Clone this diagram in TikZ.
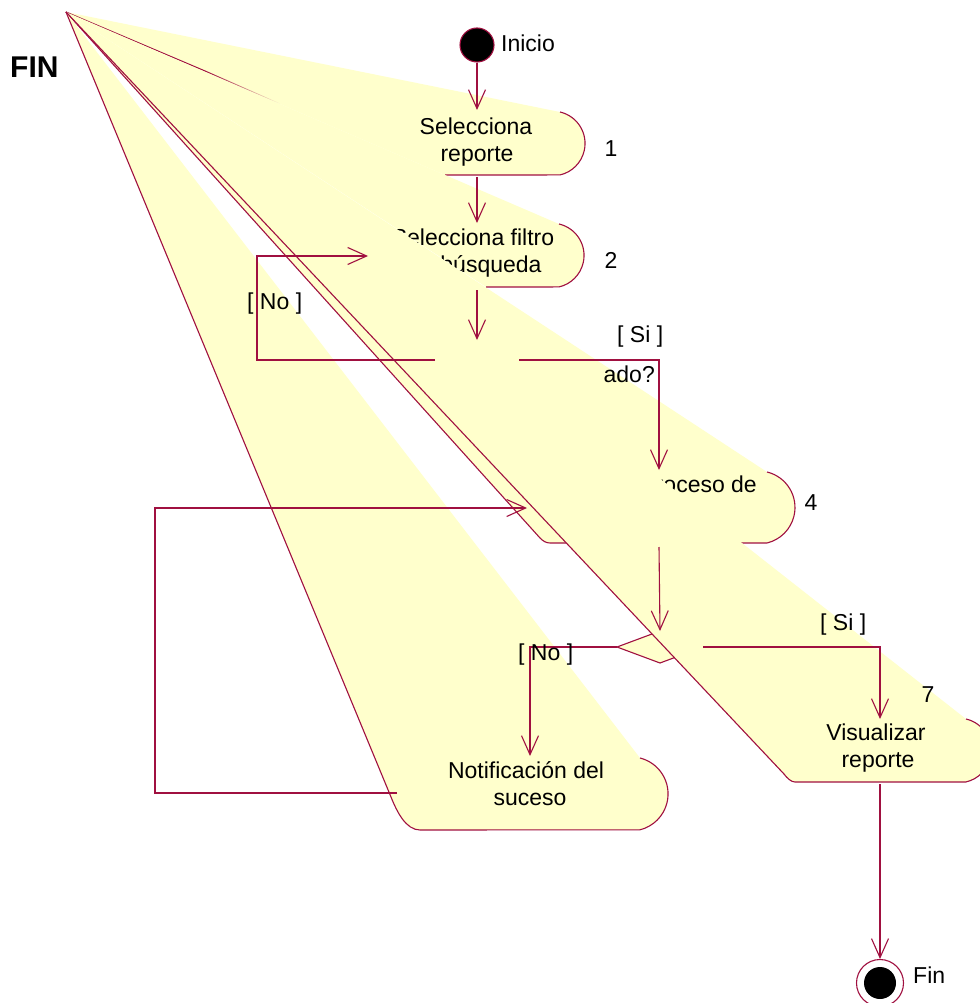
\documentclass[tikz,border=0pt]{standalone}
\usepackage{fontspec}
\setmainfont{Liberation Sans}
\usetikzlibrary{arrows.meta,fadings}
\definecolor{roseline}{RGB}{160,16,64}
\definecolor{rosefill}{RGB}{255,255,204}

\begin{document}
\begin{tikzpicture}[x=1pt,y=-1pt,
  yel/.style={fill=rosefill},
  ol/.style={draw=roseline, line width=1.1pt, line join=round},
  flow/.style={draw=roseline, line width=1.1pt, -{Straight Barb[length=19pt,width=17pt]}},
  txt/.style={font=\fontsize{23}{27}\selectfont, inner sep=0pt, anchor=base},
]
\useasboundingbox (0,0) rectangle (979,1003);
\fill[white] (0,0) rectangle (979,1003);

% common corner that every activity outline runs back to
\coordinate (A) at (66,12);

% ---- Selecciona reporte
\fill[yel] (A) -- (560,112) arc[start angle=77,end angle=-77,radius=32.3pt] -- (445,175) -- cycle;
\draw[ol] (560,112) arc[start angle=77,end angle=-77,radius=32.3pt] -- (445,175);
\coordinate (fadeA) at (205,71);
\draw[ol] (A) -- (fadeA);
\draw[ol, path fading=east] (fadeA) -- (280,104);
\node[txt] (s1a) at (476,135) {Selecciona};
\node[txt] (s1b) at (477,162) {reporte};
\coordinate (b1in) at (477,110);
\coordinate (b1out) at (477,177);

% ---- Selecciona filtro de búsqueda
\fill[yel] (A) -- (559,224) arc[start angle=77,end angle=-77,radius=32.3pt] -- (486,287) -- cycle;
\draw[ol] (559,224) arc[start angle=77,end angle=-77,radius=32.3pt] -- (486,287);
\node[txt] (s2a) at (473,245) {Selecciona filtro};
\node[txt] (s2b) at (475,272) {de búsqueda};
\coordinate (b2in) at (477,223);
\coordinate (b2left) at (368,256);
\coordinate (b2out) at (477,290);

% ---- first decision
\coordinate (d1n) at (477,340);
\coordinate (d1e) at (519,360);
\coordinate (d1s) at (477,380);
\coordinate (d1w) at (435,360);
\filldraw[yel,ol] (d1n) -- (d1e) -- (d1s) -- (d1w) -- cycle;

% ---- Proceso de ...
\fill[yel] (A) -- (767,472) arc[start angle=76.5,end angle=-76.5,radius=36.5pt] -- (550,543)
  .. controls (546,543) and (543,541) .. (540,538) -- cycle;
\draw[ol] (767,472) arc[start angle=76.5,end angle=-76.5,radius=36.5pt] -- (550,543)
  .. controls (546,543) and (543,541) .. (540,538) -- (A);
\node[txt, anchor=base east] (s4) at (757,492) {Proceso de};
\coordinate (b4in) at (659,470);
\coordinate (b4left) at (527,508);
\coordinate (b4out) at (659,547);

\node[txt, anchor=base east] (q1) at (655,382) {ado?};

% ---- second decision
\coordinate (d2n) at (660,631);
\coordinate (d2e) at (703,647);
\coordinate (d2s) at (660,663);
\coordinate (d2w) at (617,647);
\filldraw[yel,ol] (d2n) -- (d2e) -- (d2s) -- (d2w) -- cycle;

% ---- Notificación del suceso
\fill[yel] (A) -- (640,758) arc[start angle=76,end angle=-76,radius=37pt] -- (420,830)
  .. controls (406,830) and (397,812) .. (391,797) -- cycle;
\draw[ol] (640,758) arc[start angle=76,end angle=-76,radius=37pt] -- (420,830)
  .. controls (406,830) and (397,812) .. (391,797) -- (A);
\node[txt] (s5a) at (526,778) {Notificación del};
\node[txt] (s5b) at (530,805) {suceso};
\coordinate (b5in) at (530,756);
\coordinate (b5left) at (397,793);

% ---- Visualizar reporte
\fill[yel] (A) -- (966,719) arc[start angle=77,end angle=-77,radius=32.3pt] -- (795,782)
  .. controls (791,782) and (787,778) .. (784,774) -- cycle;
\draw[ol] (966,719) arc[start angle=77,end angle=-77,radius=32.3pt] -- (795,782)
  .. controls (791,782) and (787,778) .. (784,774) -- (A);
\node[txt] (s7a) at (876,740) {Visualizar};
\node[txt] (s7b) at (878,767) {reporte};
\coordinate (b7in) at (880,719);
\coordinate (b7out) at (880,784);

% ---- start and end states
\node[circle, fill=black, draw=roseline, line width=1.1pt, minimum size=34pt, inner sep=0pt] (ini) at (477,45) {};
\node[txt, anchor=base west] (inil) at (501,52) {Inicio};
\node[circle, fill=white, draw=roseline, line width=1.1pt, minimum size=47pt, inner sep=0pt] (fin) at (880,983) {};
\node[circle, fill=black, minimum size=32pt, inner sep=0pt] (finc) at (fin.center) {};
\node[txt, anchor=base west] (finl) at (913,983) {Fin};

% ---- transitions
\draw[flow] (ini.south) -- (b1in);
\draw[flow] (b1out) -- (b2in);
\draw[flow] (b2out) -- (d1n);
\draw[flow] (d1w) -- (257,360) -- (257,256) -- (b2left);
\draw[flow] (d1e) -- (659,360) -- (b4in);
\draw[flow] (b4out) -- (d2n);
\draw[flow] (d2w) -- (530,647) -- (b5in);
\draw[flow] (d2e) -- (880,647) -- (b7in);
\draw[flow] (b5left) -- (155,793) -- (155,508) -- (b4left);
\draw[flow] (b7out) -- (fin.north);

% ---- guards and step numbers
\node[txt, anchor=base west] (g1) at (247,309) {[ No ]};
\node[txt, anchor=base west] (g2) at (617,342) {[ Si ]};
\node[txt, anchor=base west] (g3) at (518,660) {[ No ]};
\node[txt, anchor=base west] (g4) at (820,630) {[ Si ]};
\node[txt] (n1) at (611,157) {1};
\node[txt] (n2) at (611,268) {2};
\node[txt] (n4) at (811,510) {4};
\node[txt] (n7) at (928,702) {7};

\node[font=\fontsize{30}{34}\selectfont\bfseries, inner sep=0pt, anchor=base west] (fintitle) at (10,78) {FIN};
\end{tikzpicture}
\end{document}
